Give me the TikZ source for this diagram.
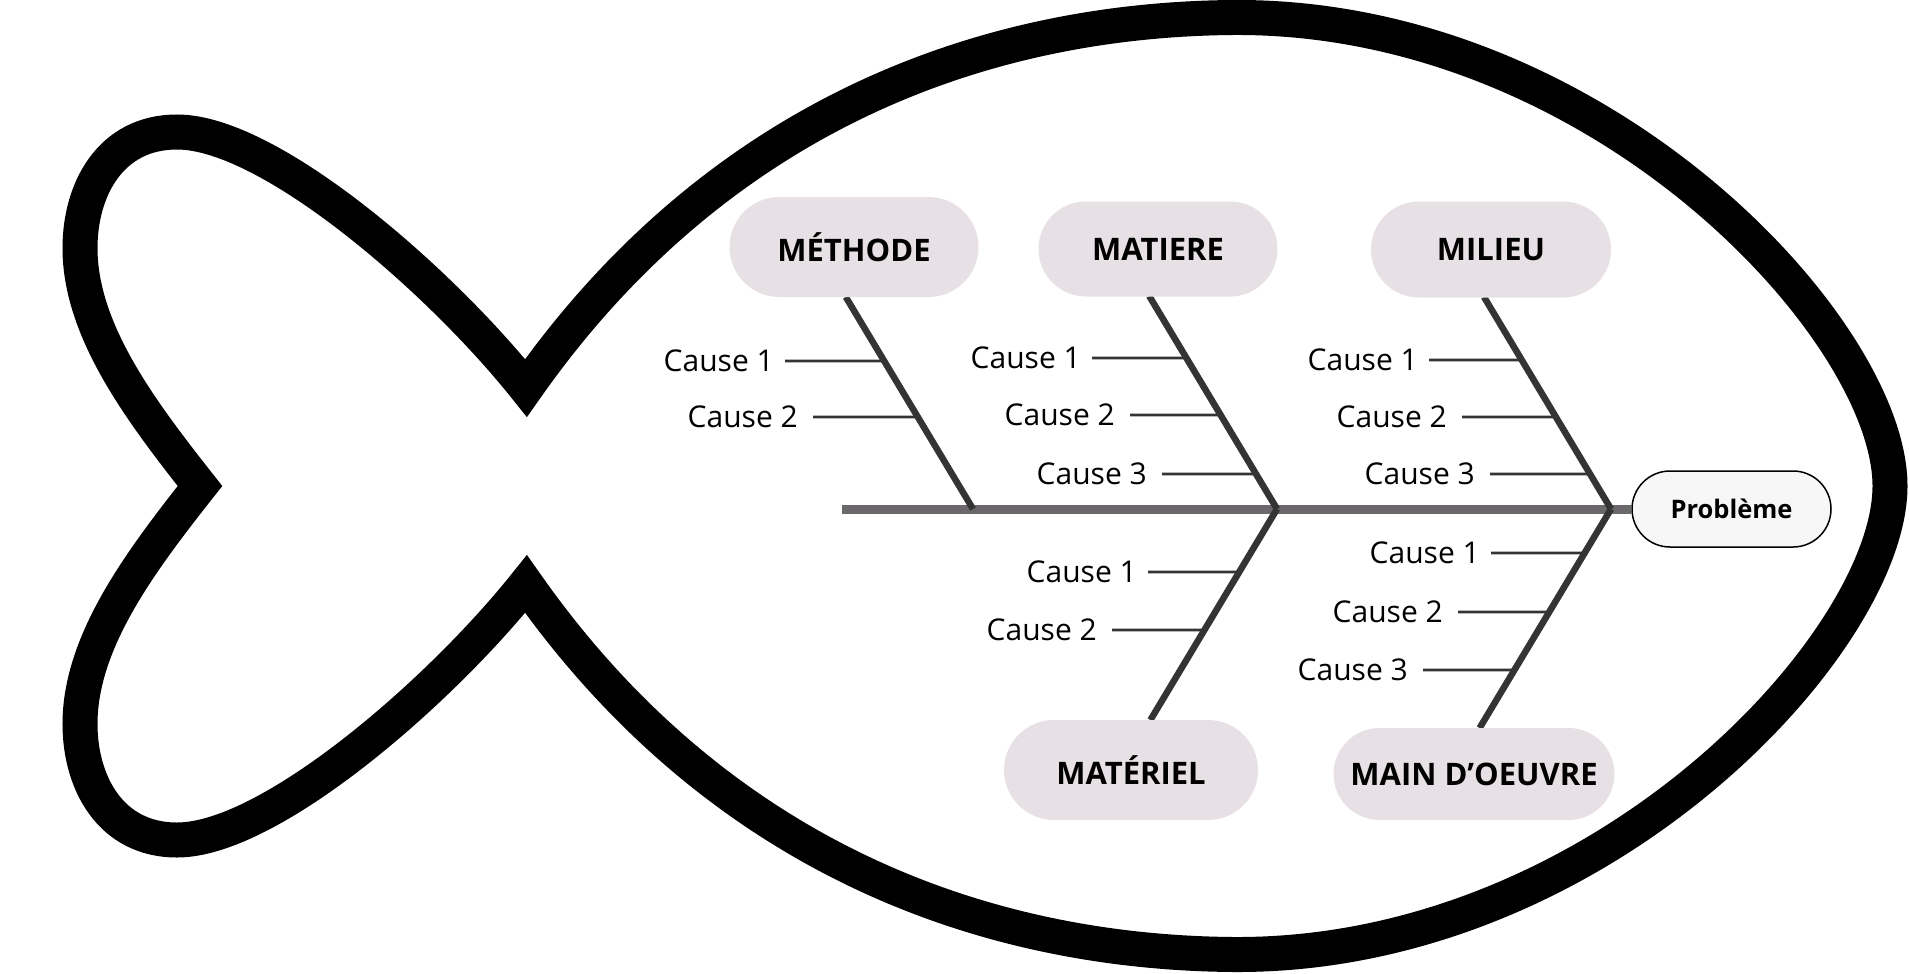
\documentclass[tikz,border=0pt]{standalone}
\usepackage{fontspec}
\setmainfont{Open Sans}
\usetikzlibrary{shapes.misc}
\definecolor{pillgray}{RGB}{231,225,229}
\definecolor{spinegray}{RGB}{106,104,106}
\definecolor{bonegray}{RGB}{52,52,52}

\begin{document}
\begin{tikzpicture}[x=1pt,y=-1pt,
            catbox/.style={rounded rectangle, fill=pillgray, inner sep=0pt, font=\fontsize{31}{37}\selectfont\bfseries},
            cause/.style={anchor=east, inner xsep=#1, inner ysep=0pt, font=\fontsize{30}{36}\selectfont},
            cause/.default=11pt,
            bone/.style={bonegray, line width=6.5pt},
            twig/.style={bonegray, line width=2.8pt}]
            \useasboundingbox (0,0) rectangle (1909,974);
            \fill [white] (0,0) rectangle (1909,974);
            \draw [black, line width=35pt, fill=white] (526,388) .. controls (440,280) and (270,132) .. (177,132)
                .. controls (110,132) and (80,190) .. (80,248)
                .. controls (80,330) and (140,410) .. (200,486)
                .. controls (140,562) and (80,642) .. (80,724)
                .. controls (80,782) and (110,840) .. (177,840)
                .. controls (270,840) and (440,692) .. (526,584)
                .. controls (700,832) and (950,952) .. (1233,954.5)
                .. controls (1600,957) and (1890,642) .. (1890,486)
                .. controls (1890,330) and (1600,15) .. (1233,17.5)
                .. controls (950,20) and (700,140) .. cycle;
            \node [rounded rectangle, draw=black, line width=1.5pt, fill=black!3, inner sep=0pt, minimum width=199, minimum height=76, font=\fontsize{25.5}{30}\selectfont\bfseries] (probleme) at (1731.5,509) {Problème};
            \coordinate (tail) at (842,509);
            \draw [spinegray, line width=9pt] (tail) -- (probleme.west);
            \coordinate (j1) at (973,509);
            \coordinate (j2) at (1277,509);
            \coordinate (j3) at (1611,509);
            \coordinate (t1) at (845.8,297);
            \coordinate (t2) at (1149.2,296);
            \coordinate (t3) at (1484,297);
            \coordinate (t4) at (1150.4,720);
            \coordinate (t5) at (1479.6,728);
            \draw [bone] (t1) -- (j1);
            \draw [bone] (t2) -- (j2);
            \draw [bone] (t3) -- (j3);
            \draw [bone] (j2) -- (t4);
            \draw [bone] (j3) -- (t5);
            \node [catbox, minimum width=249, minimum height=100] (methode) at (854,247) {MÉTHODE};
            \node [catbox, minimum width=239, minimum height=95] (matiere) at (1158,249) {MATIERE};
            \node [catbox, minimum width=240, minimum height=96] (milieu) at (1491,249.5) {MILIEU};
            \node [catbox, minimum width=254, minimum height=100] (materiel) at (1131,770) {MATÉRIEL};
            \node [catbox, minimum width=281, minimum height=92] (oeuvre) at (1474,774) {MAIN D’OEUVRE};
            \node [cause] (m1) at (785,361) {Cause 1};
            \node [cause=15pt] (m2) at (813,417) {Cause 2};
            \node [cause] (a1) at (1092,358) {Cause 1};
            \node [cause=15pt] (a2) at (1130,415) {Cause 2};
            \node [cause=15pt] (a3) at (1162,474) {Cause 3};
            \node [cause] (l1) at (1429,360) {Cause 1};
            \node [cause=15pt] (l2) at (1462,417) {Cause 2};
            \node [cause=15pt] (l3) at (1490,474) {Cause 3};
            \node [cause] (r1) at (1148,572) {Cause 1};
            \node [cause=15pt] (r2) at (1112,630) {Cause 2};
            \node [cause] (o1) at (1491,553) {Cause 1};
            \node [cause=15pt] (o2) at (1458,612) {Cause 2};
            \node [cause=15pt] (o3) at (1423,670) {Cause 3};
            \draw [twig] (m1.east) -- (intersection of t1--j1 and m1.west--m1.east);
            \draw [twig] (m2.east) -- (intersection of t1--j1 and m2.west--m2.east);
            \draw [twig] (a1.east) -- (intersection of t2--j2 and a1.west--a1.east);
            \draw [twig] (a2.east) -- (intersection of t2--j2 and a2.west--a2.east);
            \draw [twig] (a3.east) -- (intersection of t2--j2 and a3.west--a3.east);
            \draw [twig] (l1.east) -- (intersection of t3--j3 and l1.west--l1.east);
            \draw [twig] (l2.east) -- (intersection of t3--j3 and l2.west--l2.east);
            \draw [twig] (l3.east) -- (intersection of t3--j3 and l3.west--l3.east);
            \draw [twig] (r1.east) -- (intersection of t4--j2 and r1.west--r1.east);
            \draw [twig] (r2.east) -- (intersection of t4--j2 and r2.west--r2.east);
            \draw [twig] (o1.east) -- (intersection of t5--j3 and o1.west--o1.east);
            \draw [twig] (o2.east) -- (intersection of t5--j3 and o2.west--o2.east);
            \draw [twig] (o3.east) -- (intersection of t5--j3 and o3.west--o3.east);
        \end{tikzpicture}
\end{document}
